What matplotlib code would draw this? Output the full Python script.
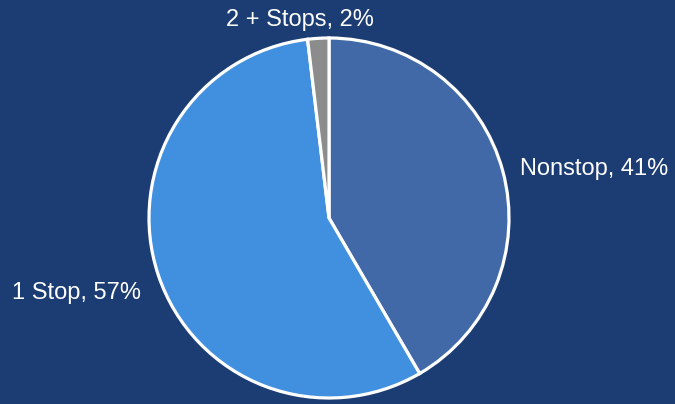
import matplotlib.pyplot as plt

labels = ['Nonstop', '1 Stop', '2 + Stops']
shares = [41.6, 56.5, 1.9]      # wedge sizes as drawn
pct_text = ['41%', '57%', '2%']  # percentages printed on the chart
colors = ['#4169A8', '#4190E0', '#8C8C8C']
bg = '#1C3D73'

plt.rcParams['font.family'] = ['Liberation Sans', 'DejaVu Sans']

fig = plt.figure(figsize=(6.75, 4.04), dpi=100)
fig.patch.set_facecolor(bg)
ax = fig.add_axes([0, 0, 1, 1])
ax.set_facecolor(bg)
ax.set_xlim(0, 675)
ax.set_ylim(0, 404)
ax.set_aspect('equal')

texts = ax.pie(shares, labels=[f'{l}, {p}' for l, p in zip(labels, pct_text)],
               colors=colors, startangle=90, counterclock=False,
               center=(329, 186), radius=180, labeldistance=1.1,
               wedgeprops=dict(edgecolor='white', linewidth=2.3),
               textprops=dict(color='white', fontsize=17), frame=True)[1]
texts[0].set_ha('left')
texts[0].set_y(texts[0].get_position()[1] - 3)
texts[1].set_ha('right')
texts[1].set_y(texts[1].get_position()[1] - 12)
texts[2].set_ha('center')
texts[2].set_x(300)
ax.axis('off')

fig.savefig('out.png', facecolor=bg)
